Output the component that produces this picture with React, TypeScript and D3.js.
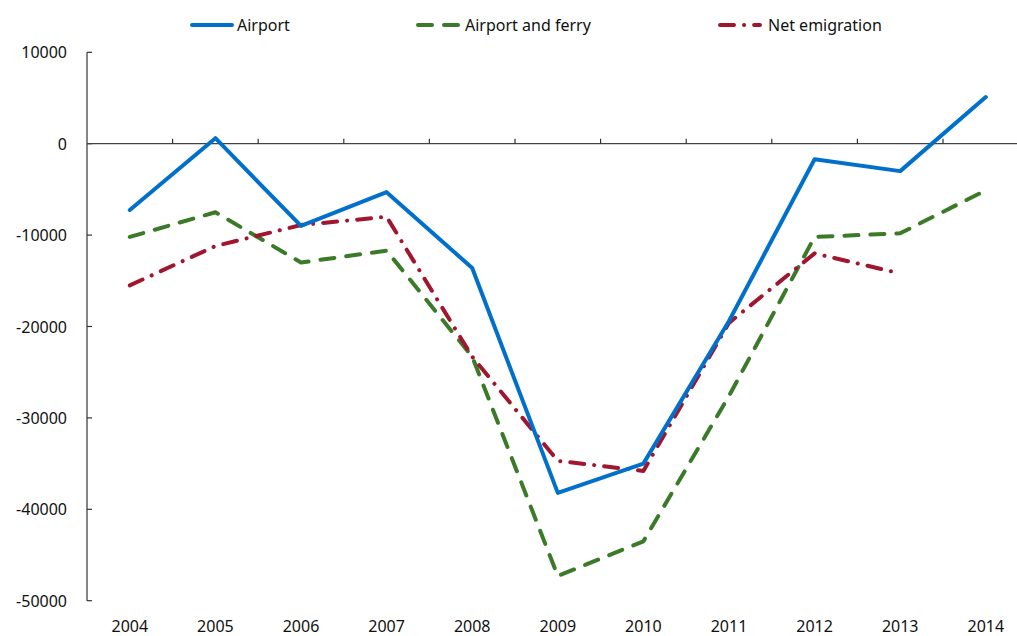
import React, { useEffect, useRef } from "react";
import * as d3 from "d3";

const years = ["2004","2005","2006","2007","2008","2009","2010","2011","2012","2013","2014"];
const airport = [-7250, 600, -9000, -5300, -13600, -38200, -35000, -19400, -1700, -3000, 5100];
const airportFerry = [-10200, -7500, -13000, -11700, -23300, -47300, -43500, -27600, -10200, -9800, -5100];
const netEmigration: (number | null)[] = [-15500, -11200, -8900, -8000, -23300, -34700, -35800, -19600, -12000, -14200, null];
const yTicks = [10000, 0, -10000, -20000, -30000, -40000, -50000];

const FONT = "'Noto Sans', 'Open Sans', sans-serif";

export default function App() {
  const ref = useRef<SVGSVGElement>(null);
  useEffect(() => {
    const svg = d3.select(ref.current);
    svg.selectAll("*").remove();
    const x = d3.scaleBand<string>().domain(years).range([87, 1028.6]);
    const y = d3.scaleLinear().domain([-50000, 10000]).range([600.7, 52.3]);
    const cx = (d: string) => (x(d) as number) + x.bandwidth() / 2;

    // y axis
    svg.append("line").attr("x1", 87).attr("x2", 87).attr("y1", y(10000)).attr("y2", y(-50000))
      .attr("stroke", "#333").attr("stroke-width", 1.2);
    yTicks.forEach(t => {
      svg.append("line").attr("x1", 87).attr("x2", 92).attr("y1", y(t)).attr("y2", y(t))
        .attr("stroke", "#333").attr("stroke-width", 1.2);
      svg.append("text").attr("x", 67).attr("y", y(t)).attr("text-anchor", "end")
        .attr("dominant-baseline", "central").attr("font-family", FONT).attr("font-size", 16)
        .attr("fill", "#111").text(String(t));
    });
    // x axis at 0
    svg.append("line").attr("x1", 87).attr("x2", 1030).attr("y1", y(0)).attr("y2", y(0))
      .attr("stroke", "#444").attr("stroke-width", 1.2);
    years.slice(1).forEach(yr => {
      const xx = x(yr) as number;
      svg.append("line").attr("x1", xx).attr("x2", xx).attr("y1", y(0)).attr("y2", y(0) - 5)
        .attr("stroke", "#333").attr("stroke-width", 1.2);
    });
    years.forEach(yr => {
      svg.append("text").attr("x", cx(yr)).attr("y", 626).attr("text-anchor", "middle")
        .attr("dominant-baseline", "central").attr("font-family", FONT).attr("font-size", 16)
        .attr("fill", "#111").text(yr);
    });

    const series = [
      { name: "Airport", data: airport as (number | null)[], color: "#0070CC", dash: null as string | null, lx1: 192, lx2: 232, tx: 237 },
      { name: "Airport and ferry", data: airportFerry as (number | null)[], color: "#3A7A28", dash: "14,12", lx1: 418, lx2: 460, tx: 465 },
      { name: "Net emigration", data: netEmigration, color: "#A0162F", dash: "14,10,0.1,10", lx1: 720, lx2: 760, tx: 768 },
    ];

    const order = [1, 2, 0];
    order.forEach(i => {
      const s = series[i];
      const line = d3.line<number | null>()
        .defined(d => d !== null)
        .x((_, j) => cx(years[j]))
        .y(d => y(d as number));
      const p = svg.append("path").attr("d", line(s.data) as string).attr("fill", "none")
        .attr("stroke", s.color).attr("stroke-width", 4).attr("stroke-linecap", "round")
        .attr("stroke-linejoin", "round");
      if (s.dash) p.attr("stroke-dasharray", s.dash);
    });

    series.forEach(s => {
      const l = svg.append("line").attr("x1", s.lx1).attr("x2", s.lx2).attr("y1", 25).attr("y2", 25)
        .attr("stroke", s.color).attr("stroke-width", 4).attr("stroke-linecap", "round");
      if (s.dash) l.attr("stroke-dasharray", s.dash);
      svg.append("text").attr("x", s.tx).attr("y", 25).attr("dominant-baseline", "central")
        .attr("font-family", FONT).attr("font-size", 16).attr("fill", "#111").text(s.name);
    });
  }, []);
  return (
    <svg ref={ref} width={1017} height={636}
      style={{ position: "absolute", left: 0, top: 0, background: "#fff" }} />
  );
}
